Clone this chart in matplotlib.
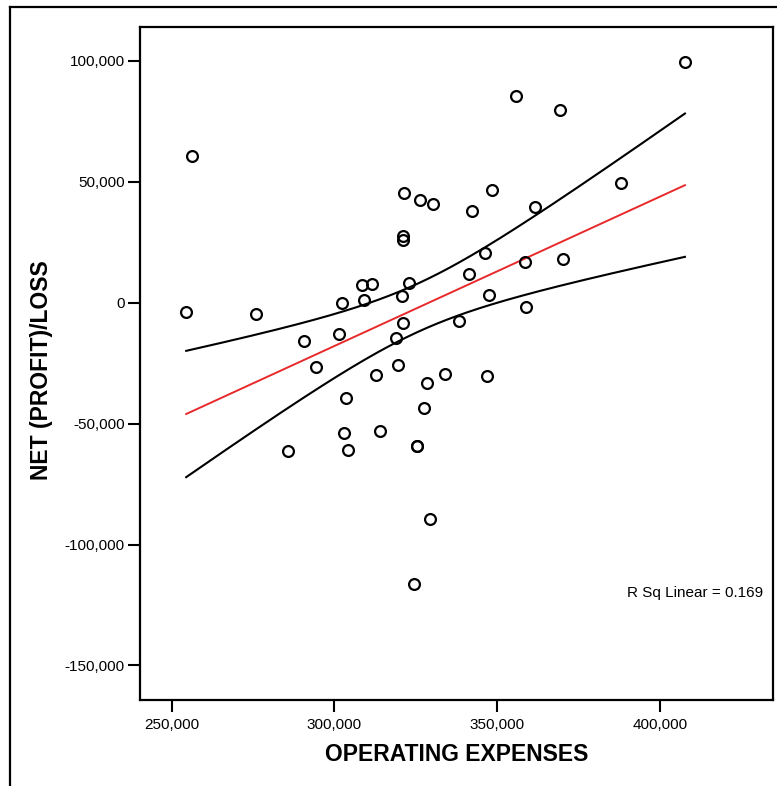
import numpy as np
import matplotlib
matplotlib.use("Agg")
import matplotlib.pyplot as plt
from matplotlib.lines import Line2D
from matplotlib.ticker import FuncFormatter

plt.rcParams['font.family'] = ['Liberation Sans', 'DejaVu Sans']

# Operating expenses vs net (profit)/loss per unit
operating_expenses = [
    254476, 256131, 275843, 285745, 290650, 294237, 301380, 302300, 302821,
    303526, 304047, 308431, 308952, 311558, 312692, 314010, 318762, 319590,
    320601, 320999, 320999, 321122, 321214, 322747, 324280, 325291, 325291,
    326333, 327437, 328356, 329184, 330196, 333997, 338289, 341232, 342151,
    346137, 346964, 347578, 348405, 355855, 358400, 358707, 361588, 369130,
    370049, 387830, 407572,
]
net_profit_loss = [
    -3925, 60658, -4628, -61483, -15784, -26650, -12892, -331, -53798,
    -39461, -61070, 7231, 1033, 7644, -29874, -53303, -14793, -25949,
    2686, 27602, 25825, -8347, 45245, 7933, -116441, -59170, -59170,
    42477, -43469, -33387, -89433, 40576, -29420, -7644, 11776, 37932,
    20577, -30370, 3223, 46485, 85450, 16611, -1983, 39337, 79417,
    17850, 49377, 99373,
]
x_ticks = [250000, 300000, 350000, 400000]
y_ticks = [-150000, -100000, -50000, 0, 50000, 100000]

x = np.asarray(operating_expenses, dtype=float)
y = np.asarray(net_profit_loss, dtype=float)
n = len(x)

# Least-squares line with 90% confidence band for the mean
slope, intercept = np.polyfit(x, y, 1)
resid = y - (slope * x + intercept)
r2 = 1 - np.sum(resid ** 2) / np.sum((y - y.mean()) ** 2)
s = np.sqrt(np.sum(resid ** 2) / (n - 2))
t_crit = 1.679  # t(0.95, df=46)
sxx = np.sum((x - x.mean()) ** 2)
xs = np.linspace(x.min(), x.max(), 200)
fit = slope * xs + intercept
half = t_crit * s * np.sqrt(1.0 / n + (xs - x.mean()) ** 2 / sxx)

W, H = 777, 786
fig = plt.figure(figsize=(W / 100, H / 100), dpi=100)
L, R, T, B = 140, 773, 27, 699.5
ax = fig.add_axes([L / W, 1 - B / H, (R - L) / W, (B - T) / H])

ax.plot(xs, fit + half, color='black', lw=1.5, zorder=2)
ax.plot(xs, fit - half, color='black', lw=1.5, zorder=2)
ax.plot(xs, fit, color='#e8292b', lw=1.4, zorder=2)
ax.plot(x, y, linestyle='none', marker='o', markersize=7.8,
        markerfacecolor='none', markeredgecolor='black',
        markeredgewidth=1.6, zorder=3)

ax.set_xlim(240300, 434600)
ax.set_ylim(-164050, 113850)
ax.set_xticks(x_ticks)
ax.set_yticks(y_ticks)
fmt = FuncFormatter(lambda v, p: f"{int(round(v)):,}")
ax.xaxis.set_major_formatter(fmt)
ax.yaxis.set_major_formatter(fmt)
ax.tick_params(axis='both', direction='out', length=8.5, width=1.5,
               labelsize=11, color='black', labelcolor='black')
ax.tick_params(axis='x', pad=5)
ax.tick_params(axis='y', pad=2.5)
for sp in ax.spines.values():
    sp.set_linewidth(1.6)

ax.set_xlabel('OPERATING EXPENSES', fontsize=16.5, fontweight='bold')
ax.xaxis.set_label_coords(0.5, (B - 760.7) / (B - T))
ax.xaxis.label.set_verticalalignment('baseline')
ax.set_ylabel('NET (PROFIT)/LOSS', fontsize=16.5, fontweight='bold')
ax.yaxis.set_label_coords((53 - L) / (R - L), (B - 370) / (B - T))

ax.text(0.985, (B - 593) / (B - T), f'R Sq Linear = {r2:.3f}',
        transform=ax.transAxes, ha='right', va='center', fontsize=11,
        color='black')

# outer chart frame (top and left edges)
fig.add_artist(Line2D([10 / W, 1.0], [1 - 7.3 / H, 1 - 7.3 / H],
                      color='black', lw=1.6, transform=fig.transFigure))
fig.add_artist(Line2D([10 / W, 10 / W], [1 - 7.3 / H, 0.0],
                      color='black', lw=1.6, transform=fig.transFigure))

fig.savefig('out.png', dpi=100)
